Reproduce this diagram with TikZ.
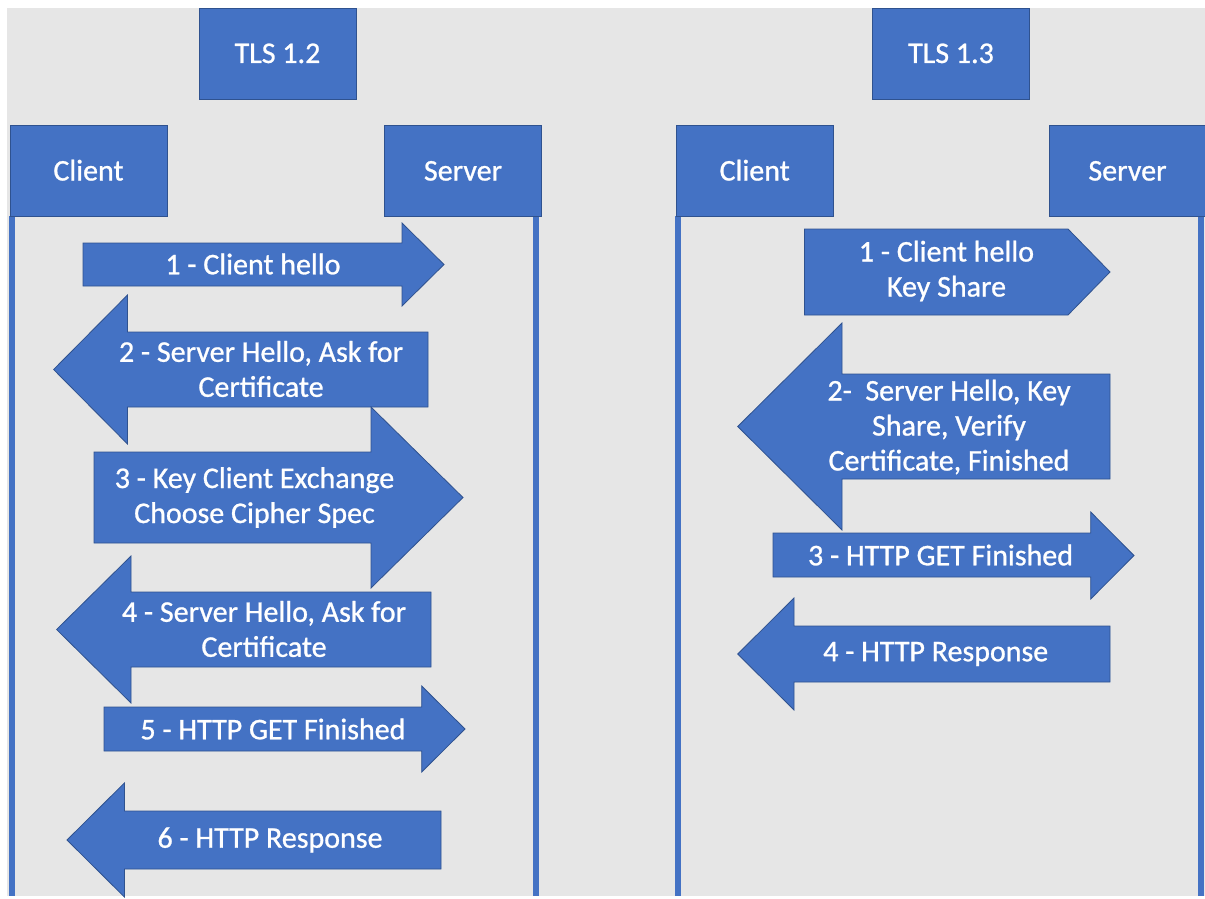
\documentclass[tikz,border=0pt]{standalone}
\usepackage{fontspec}
\setmainfont{Carlito}[FakeBold=0.9]
\definecolor{obBlue}{HTML}{4472C4}
\definecolor{obEdge}{HTML}{2F528F}
\definecolor{obBg}{HTML}{E6E6E6}
\begin{document}
\begin{tikzpicture}[x=1pt,y=-1pt,
  shapefill/.style={fill=obBlue,draw=obEdge,line width=0.8pt,line join=miter},
  hdrbox/.style={shapefill,rectangle,inner sep=0pt,text=white,
    text height=25pt,text depth=6pt,
    font=\fontsize{30}{35}\selectfont},
  lbl/.style={text=white,align=center,inner sep=0pt,
    font=\fontsize{30}{35}\selectfont},
  lifeline/.style={draw=obBlue,line width=6pt}]
\useasboundingbox (0,0) rectangle (1205,899);
\fill[white] (0,0) rectangle (1205,899);
\fill[obBg] (7,8) rectangle (1205,896);

% header boxes
\node[hdrbox,minimum width=157pt,minimum height=91pt] (t12) at (277.5,53.5) {TLS 1.2};
\node[hdrbox,minimum width=157pt,minimum height=91pt] (t13) at (951,53.5) {TLS 1.3};

% lifelines (drawn first so boxes sit on top)
\coordinate (c12top) at (12,216);  \coordinate (c12bot) at (12,896);
\coordinate (s12top) at (536,216); \coordinate (s12bot) at (536,896);
\coordinate (c13top) at (678,216); \coordinate (c13bot) at (678,896);
\coordinate (s13top) at (1201,216);\coordinate (s13bot) at (1201,896);
\draw[lifeline] (c12top) -- (c12bot);
\draw[lifeline] (s12top) -- (s12bot);
\draw[lifeline] (c13top) -- (c13bot);
\draw[lifeline] (s13top) -- (s13bot);

\node[hdrbox,minimum width=157pt,minimum height=90.5pt] (cl12) at (88.5,171) {Client};
\node[hdrbox,minimum width=157pt,minimum height=90.5pt] (sv12) at (463,171) {Server};
\node[hdrbox,minimum width=157pt,minimum height=90.5pt] (cl13) at (754.7,171) {Client};
\node[hdrbox,minimum width=157pt,minimum height=90.5pt] (sv13) at (1127.5,171) {Server};

% ---------- TLS 1.2 arrows ----------
% 1 right
\draw[shapefill] (83,243) -- (402,243) -- (402,223) -- (444,264.5) -- (402,306) -- (402,286) -- (83,286) -- cycle;
\node[lbl] (m1) at (253,264) {1 - Client hello};
% 2 left
\draw[shapefill] (428,332) -- (127.5,332) -- (127.5,295) -- (53.6,369.5) -- (127.5,444) -- (127.5,407) -- (428,407) -- cycle;
\node[lbl] (m2) at (261,369) {2 - Server Hello, Ask for\\Certificate};
% 3 right
\draw[shapefill] (94,452) -- (371,452) -- (371,407) -- (463,497.5) -- (371,588) -- (371,543) -- (94,543) -- cycle;
\node[lbl] (m3) at (254.5,497.5) {3 - Key Client Exchange\\Choose Cipher Spec};
% 4 left
\draw[shapefill] (431,592) -- (131,592) -- (131,556) -- (56.6,629.5) -- (131,703) -- (131,667) -- (431,667) -- cycle;
\node[lbl] (m4) at (264,629) {4 - Server Hello, Ask for\\Certificate};
% 5 right
\draw[shapefill] (104,707) -- (421.7,707) -- (421.7,686) -- (465,729) -- (421.7,772) -- (421.7,751) -- (104,751) -- cycle;
\node[lbl] (m5) at (273,729) {5 - HTTP GET Finished};
% 6 left
\draw[shapefill] (441,811) -- (124.4,811) -- (124.4,783) -- (67,840) -- (124.4,897) -- (124.4,869) -- (441,869) -- cycle;
\node[lbl] (m6) at (270,840) {6 - HTTP Response};

% ---------- TLS 1.3 arrows ----------
% 1 chevron
\draw[shapefill] (804.5,229) -- (1068,229) -- (1110,272) -- (1068,315) -- (804.5,315) -- cycle;
\node[lbl] (n1) at (946.5,271) {1 - Client hello\\Key Share};
% 2 left
\draw[shapefill] (1110,374) -- (842,374) -- (842,323) -- (737.7,426.5) -- (842,530) -- (842,479) -- (1110,479) -- cycle;
\node[lbl] (n2) at (949,427) {2-\ \ Server Hello, Key\\Share, Verify\\Certificate, Finished};
% 3 right
\draw[shapefill] (773,533) -- (1090.7,533) -- (1090.7,512) -- (1134,555.5) -- (1090.7,599) -- (1090.7,577) -- (773,577) -- cycle;
\node[lbl] (n3) at (940.6,555) {3 - HTTP GET Finished};
% 4 left
\draw[shapefill] (1110,626) -- (794,626) -- (794,598) -- (737.7,654) -- (794,710) -- (794,682) -- (1110,682) -- cycle;
\node[lbl] (n4) at (935.7,654) {4 - HTTP Response};
\end{tikzpicture}
\end{document}
